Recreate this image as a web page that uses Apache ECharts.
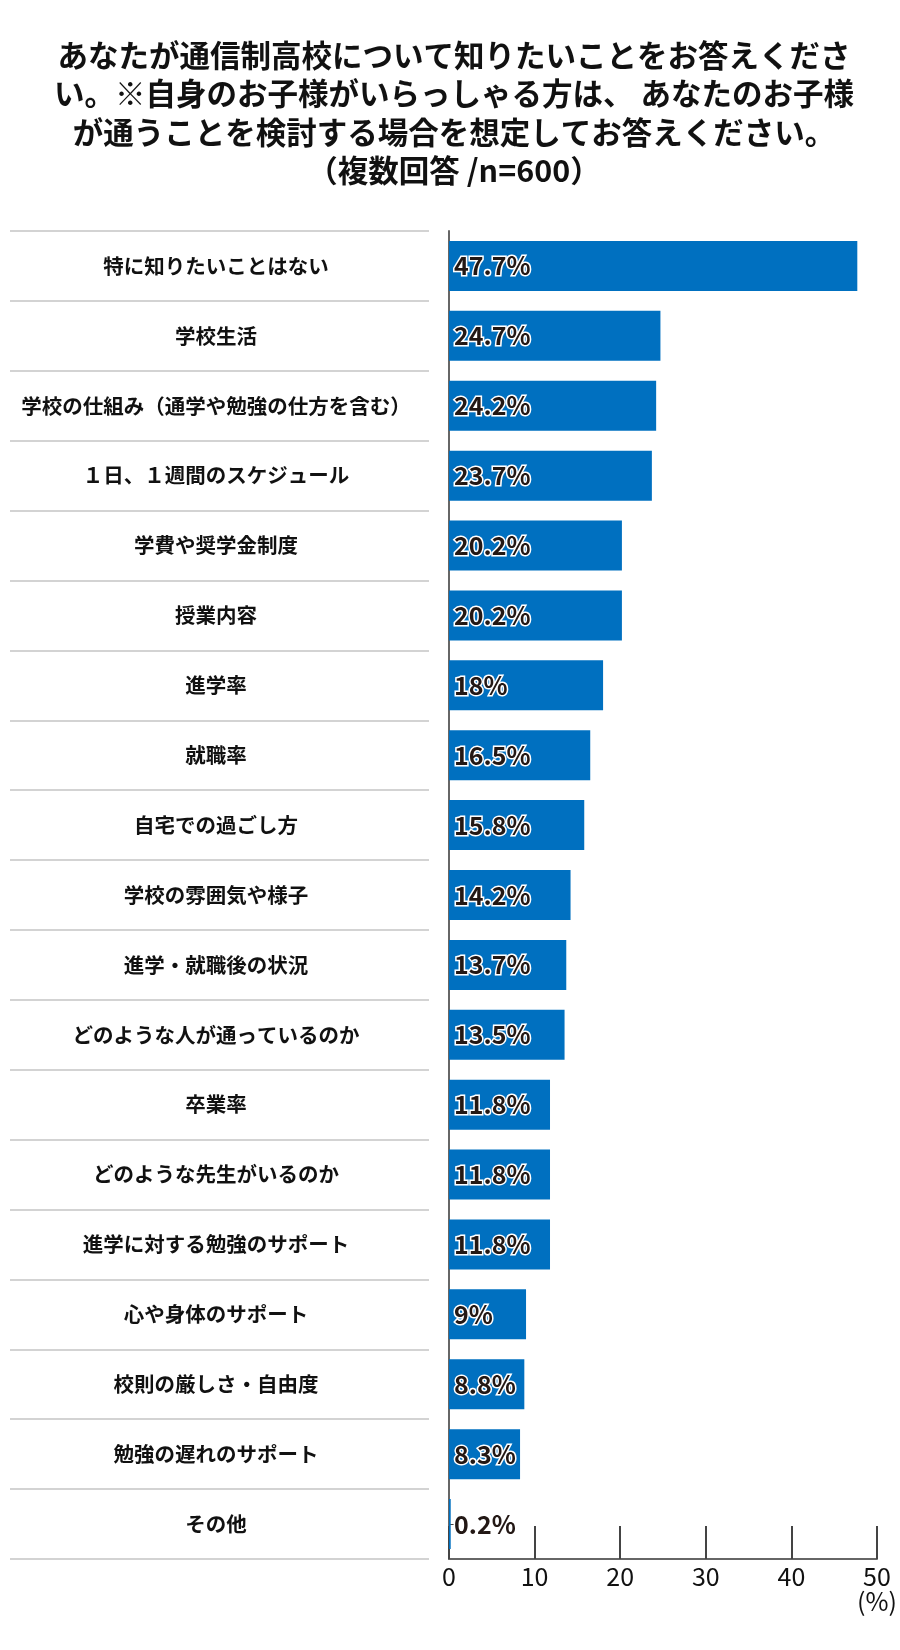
<!DOCTYPE html>
<html><head><meta charset="utf-8">
<script src="https://cdn.jsdelivr.net/npm/echarts@6/dist/echarts.min.js"></script>
<style>html,body{margin:0;padding:0;background:#fff}#c{width:900px;height:1650px}</style>
</head><body><div id="c"></div>
<script>
const titleText = 'あなたが通信制高校について知りたいことをお答えくださ\nい。※自身のお子様がいらっしゃる方は、 あなたのお子様\nが通うことを検討する場合を想定してお答えください。\n（複数回答 /n=600）';
const categories = ['特に知りたいことはない','学校生活','学校の仕組み（通学や勉強の仕方を含む）','１日、１週間のスケジュール','学費や奨学金制度','授業内容','進学率','就職率','自宅での過ごし方','学校の雰囲気や様子','進学・就職後の状況','どのような人が通っているのか','卒業率','どのような先生がいるのか','進学に対する勉強のサポート','心や身体のサポート','校則の厳しさ・自由度','勉強の遅れのサポート','その他'];
const values = [47.7,24.7,24.2,23.7,20.2,20.2,18,16.5,15.8,14.2,13.7,13.5,11.8,11.8,11.8,9,8.8,8.3,0.2];
const xTicks = [0,10,20,30,40,50];
const FONT = '"Noto Sans CJK JP","Noto Sans",sans-serif';

const chart = echarts.init(document.getElementById('c'), null, {renderer:'canvas'});
chart.setOption({
  animation:false,
  backgroundColor:'#fff',
  title:{
    text:titleText, left:449, top:31, textAlign:'center',
    textStyle:{fontFamily:FONT, fontSize:30.5, fontWeight:'bold', color:'#111', lineHeight:38.5}
  },
  grid:[
    {left:449, right:23, top:231, bottom:91},
    {left:10, width:419, top:231, bottom:91}
  ],
  xAxis:[
    {type:'value', gridIndex:0, min:xTicks[0], max:xTicks[xTicks.length-1], interval:10,
     axisLine:{show:true, lineStyle:{color:'#666', width:2}},
     axisTick:{show:true, inside:true, length:33, lineStyle:{color:'#444', width:2}},
     splitLine:{show:false},
     axisLabel:{fontFamily:FONT, fontSize:25, color:'#111', margin:5, lineHeight:25,
       formatter:v => v === xTicks[xTicks.length-1] ? v + '\n(%)' : String(v)}},
    {type:'value', gridIndex:1, show:false, min:0, max:1}
  ],
  yAxis:[
    {type:'category', gridIndex:0, data:categories, inverse:true,
     axisLine:{show:true, lineStyle:{color:'#666', width:2}},
     axisTick:{show:true, inside:true, length:6, alignWithLabel:true, lineStyle:{color:'#444'}},
     axisLabel:{fontFamily:FONT, fontSize:20.5, fontWeight:'bold', color:'#111', align:'center', margin:233}},
    {type:'category', gridIndex:1, data:categories, inverse:true,
     axisLine:{show:false}, axisTick:{show:false}, axisLabel:{show:false},
     splitLine:{show:true, lineStyle:{color:'#d3d3d3', width:2}}}
  ],
  series:[{
    type:'bar', xAxisIndex:0, yAxisIndex:0, data:values, barWidth:50,
    itemStyle:{color:'#0070c0'},
    label:{show:true, position:'insideLeft', distance:5, formatter:p => p.value + '%',
      fontFamily:FONT, fontSize:25, fontWeight:'bold', color:'#231815',
      textBorderColor:'#fff', textBorderWidth:3}
  }]
});
</script></body></html>
